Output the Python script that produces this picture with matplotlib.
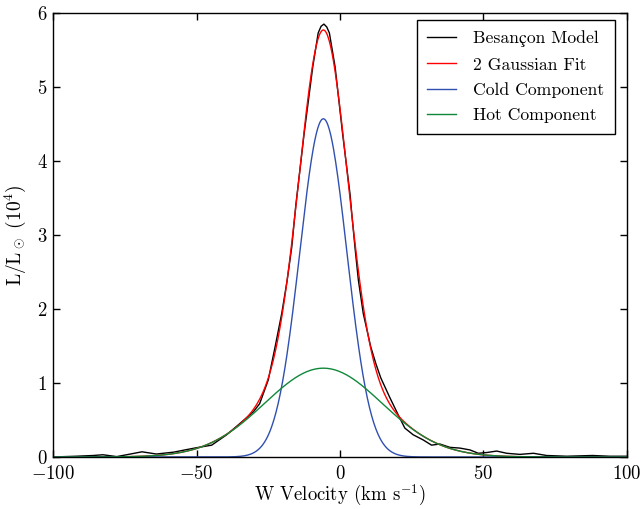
import matplotlib
matplotlib.use('Agg')
import matplotlib.pyplot as plt
import numpy as np

# Computer Modern look, like the usetex original
plt.rcParams['font.family'] = ['cmr10', 'STIXGeneral', 'DejaVu Serif']
plt.rcParams['mathtext.fontset'] = 'cm'
plt.rcParams['axes.formatter.use_mathtext'] = True
plt.rcParams['axes.unicode_minus'] = True

# Besancon model curve (W velocity in km/s, L/Lsun in 1e4)
w_model = [-100, -92, -86, -82.6, -77.8, -73, -69, -64, -58, -53.4, -50, -44.7,
           -39.5, -34.8, -30.2, -28, -25, -22.6, -20.3, -18.4, -16.8, -15.4,
           -12.5, -9.5, -7.6, -6.6, -5.6, -4.6, -3.7, -1.7, 0.9, 3.5, 4.1, 5.2,
           6.4, 8.1, 10.7, 12.5, 14.2, 17.4, 20.9, 22.6, 25.5, 29.0, 31.9, 34.8, 38.3,
           41.8, 45.3, 48.2, 51.1, 54.6, 58.1, 62.7, 67.4, 72, 79, 88, 94, 100]
l_model = [0.0, 0.01, 0.02, 0.03, 0.005, 0.04, 0.07, 0.04, 0.065, 0.10, 0.125, 0.16,
           0.30, 0.455, 0.61, 0.72, 1.04, 1.49, 1.94, 2.39, 2.84, 3.40,
           4.37, 5.27, 5.73, 5.82, 5.85, 5.81, 5.73, 5.27, 4.37, 3.55, 3.29, 2.84,
           2.39, 1.94, 1.49, 1.26, 1.07, 0.80, 0.52, 0.39, 0.30, 0.23, 0.16, 0.175, 0.13,
           0.12, 0.095, 0.05, 0.06, 0.08, 0.05, 0.035, 0.05, 0.02, 0.01, 0.02, 0.01, 0.01]

# fitted gaussian parameters (amplitude, mean, sigma)
cold_fit = [4.57, -5.8, 8.2]
hot_fit = [1.20, -5.8, 20.4]

def gauss(x, amp, mu, sig):
    return amp*np.exp(-(x-mu)**2/(2.0*sig**2))

w = np.linspace(-100, 100, 801)
cold = gauss(w, *cold_fit)
hot = gauss(w, *hot_fit)
fit = cold + hot

fig = plt.figure(figsize=(6.44, 5.09), dpi=100)
ax = fig.add_axes([0.0823, 0.1022, 0.9736-0.0823, 0.9745-0.1022])

ax.plot(w_model, l_model, color='k', linewidth=1.0, label=u'Besan\u00e7on Model')
ax.plot(w, fit, color='#ff0000', linewidth=1.0, label='2 Gaussian Fit')
ax.plot(w, cold, color='#3050b0', linewidth=1.0, label='Cold Component')
ax.plot(w, hot, color='#10883a', linewidth=1.0, label='Hot Component')

ax.set_xlim(-100, 100)
ax.set_ylim(0, 6)
ax.set_xticks([-100, -50, 0, 50, 100])
ax.set_yticks([0, 1, 2, 3, 4, 5, 6])
ax.tick_params(direction='in', top=True, right=True, length=5, width=1, labelsize=13.5)
ax.tick_params(axis='x', pad=6)
ax.tick_params(axis='y', pad=4)
for t in ax.get_yticklabels():
    t.set_va('center_baseline')
ax.set_xlabel(r'W Velocity (km s$^{-1}$)', fontsize=13.5, labelpad=0)
ax.set_ylabel(r'L/L$_\odot$ (10$^4$)', fontsize=14, labelpad=6)
for s in ax.spines.values():
    s.set_linewidth(1.0)

leg = ax.legend(loc='upper right', bbox_to_anchor=(0.979, 0.984), borderaxespad=0,
                fontsize=12.7, fancybox=False, framealpha=1, edgecolor='k',
                handlelength=1.6, handletextpad=1.0, borderpad=0.6, labelspacing=0.55)
leg.get_frame().set_linewidth(1.0)

fig.savefig('out.png', dpi=100)
